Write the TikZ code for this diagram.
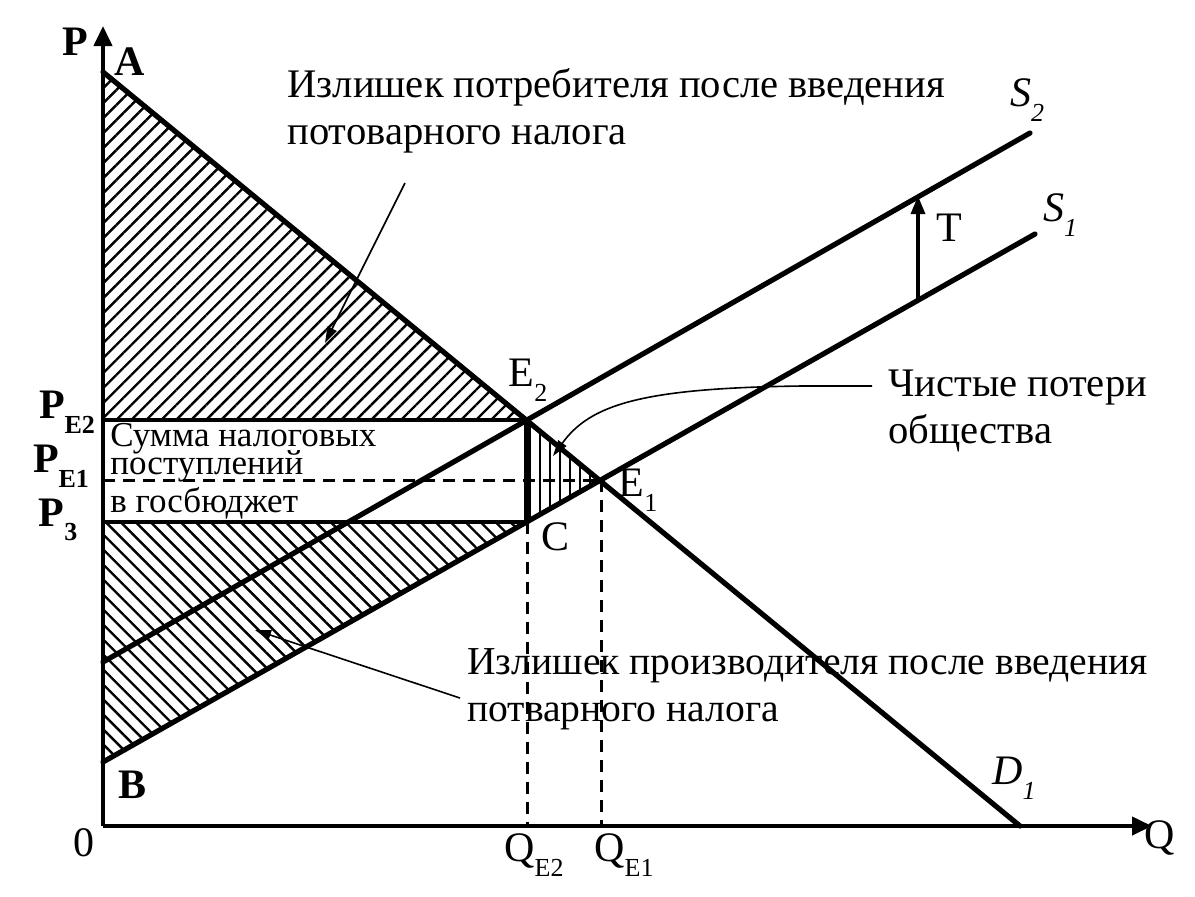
\documentclass[tikz,border=0pt]{standalone}
\usepackage{fontspec}
\setmainfont{Liberation Serif}
\usetikzlibrary{arrows.meta}
\usetikzlibrary{patterns.meta}
\usetikzlibrary{positioning}

\newcommand{\lowsub}[1]{\raisebox{-0.35em}{\fontsize{13}{13}\selectfont #1}}

\tikzset{
  curve/.style={line width=2.6pt, line cap=round},
  level/.style={line width=1.6pt},
  guide/.style={line width=1.5pt, dash pattern=on 6pt off 4pt},
  axis/.style={line width=2pt, -{Triangle[length=10pt,width=9pt]}},
  pointer/.style={line width=0.8pt, -{Triangle[length=8pt,width=5pt]}},
  lbl/.style={font=\fontsize{21}{24}\selectfont, inner sep=0pt},
  bold lbl/.style={lbl, font=\fontsize{21}{24}\selectfont\bfseries},
  note/.style={font=\fontsize{20.3}{23.5}\selectfont, align=left, inner sep=0pt},
  small/.style={font=\fontsize{17.5}{14}\selectfont, inner sep=0pt, anchor=base west},
}

\begin{document}
\begin{tikzpicture}[x=0.5pt, y=-0.5pt]
  \useasboundingbox (0,0) rectangle (1195,896);

  % points of the graph
  \coordinate (O) at (103,826);
  \coordinate (A) at (103,72);
  \coordinate (B) at (103,762);
  \coordinate (S2start) at (103,662);
  \coordinate (E2) at (527,420);
  \coordinate (E1) at (601,480);
  \coordinate (C) at (527,522);
  \coordinate (PE2) at (103,420);
  \coordinate (PE1) at (103,480);
  \coordinate (P3) at (103,522);
  \coordinate (D1end) at (1020,826);
  \coordinate (S1end) at (1035,234);
  \coordinate (S2end) at (1030,133);
  \coordinate (QE2) at (527,826);
  \coordinate (QE1) at (601,826);
  \coordinate (Pend) at (103,26);
  \coordinate (Qend) at (1152,826);
  \coordinate (Tlow) at (918,300);
  \coordinate (Thigh) at (918,196);

  % hatched areas
  \fill[pattern={Lines[angle=45, distance=5.3pt, line width=1.2pt]}] (A) -- (PE2) -- (E2) -- cycle;
  \fill[pattern={Lines[angle=-45, distance=5.3pt, line width=1.2pt]}] (P3) -- (C) -- (B) -- cycle;
  \fill[pattern={Lines[angle=90, distance=5pt, line width=1.2pt]}] (E2) -- (C) -- (E1) -- cycle;

  % axes
  \draw[axis] (O) -- (Pend);
  \draw[axis] (O) -- (Qend);

  % demand and supply
  \draw[curve] (A) -- (D1end);
  \draw[curve] (B) -- (S1end);
  \draw[curve] (S2start) -- (S2end);
  \draw[curve] (E2) -- (C);

  % prices and quantities
  \draw[level] (PE2) -- (E2);
  \draw[level] (P3) -- (C);
  \draw[guide] (PE1) -- (E1);
  \draw[guide] (C) -- (QE2);
  \draw[guide] (E1) -- (QE1);

  % tax shift
  \draw[line width=1.6pt, -{Triangle[length=9pt,width=7pt]}] (Tlow) -- (Thigh);

  % labels
  \node[bold lbl] (labP) at (75,42) {P};
  \node[bold lbl] (labA) at (130,62) {A};
  \node[bold lbl] (labB) at (133,785) {B};
  \node[lbl] (labO) at (84,843) {0};
  \node[lbl] (labQ) at (1160,838) {Q};
  \node[lbl] (labC) at (556,537) {C};
  \node[lbl] (labT) at (949,228) {T};
  \node[lbl] (labE2) at (528,380) {E\lowsub{2}};
  \node[lbl] (labE1) at (638,490) {E\lowsub{1}};
  \node[bold lbl] (labPE2) at (67,412) {P\lowsub{E2}};
  \node[bold lbl] (labPE1) at (61,466) {P\lowsub{E1}};
  \node[bold lbl] (labP3) at (58,520) {P\lowsub{3}};
  \node[lbl] (labQE2) at (534,855) {Q\lowsub{E2}};
  \node[lbl] (labQE1) at (624,855) {Q\lowsub{E1}};
  \node[lbl] (labD1) at (1014,778) {\textit{D}\lowsub{\textit{1}}};
  \node[lbl] (labS2) at (1027,100) {\textit{S}\lowsub{\textit{2}}};
  \node[lbl] (labS1) at (1060,215) {\textit{S}\lowsub{\textit{1}}};

  % notes
  \node[note, anchor=north west] (cs) at (287,68) {Излишек потребителя после введения\\потоварного налога};
  \node[small] (tax1) at (110,446) {Сумма налоговых};
  \node[small] (tax2) at (110,474) {поступлений};
  \node[small] (tax3) at (110,512) {в госбюджет};
  \node[note, anchor=north west] (dwl) at (888,370) {Чистые потери\\общества};
  \node[note, anchor=north west, font=\fontsize{19.8}{23.5}\selectfont] (ps) at (467,648) {Излишек производителя после введения\\потварного налога};

  % pointers
  \coordinate (csFrom) at (405,183);
  \coordinate (csTo) at (325,343);
  \coordinate (dwlTo) at (553,456);
  \coordinate (psFrom) at (460,698);
  \coordinate (psTo) at (255,630);
  \draw[pointer] (csFrom) -- (csTo);
  \draw[pointer] ([xshift=-8pt,yshift=-8pt]dwl.north west) -- ++(-70,0) .. controls (640,388) and (590,405) .. (dwlTo);
  \draw[pointer] (psFrom) -- (psTo);
\end{tikzpicture}
\end{document}
